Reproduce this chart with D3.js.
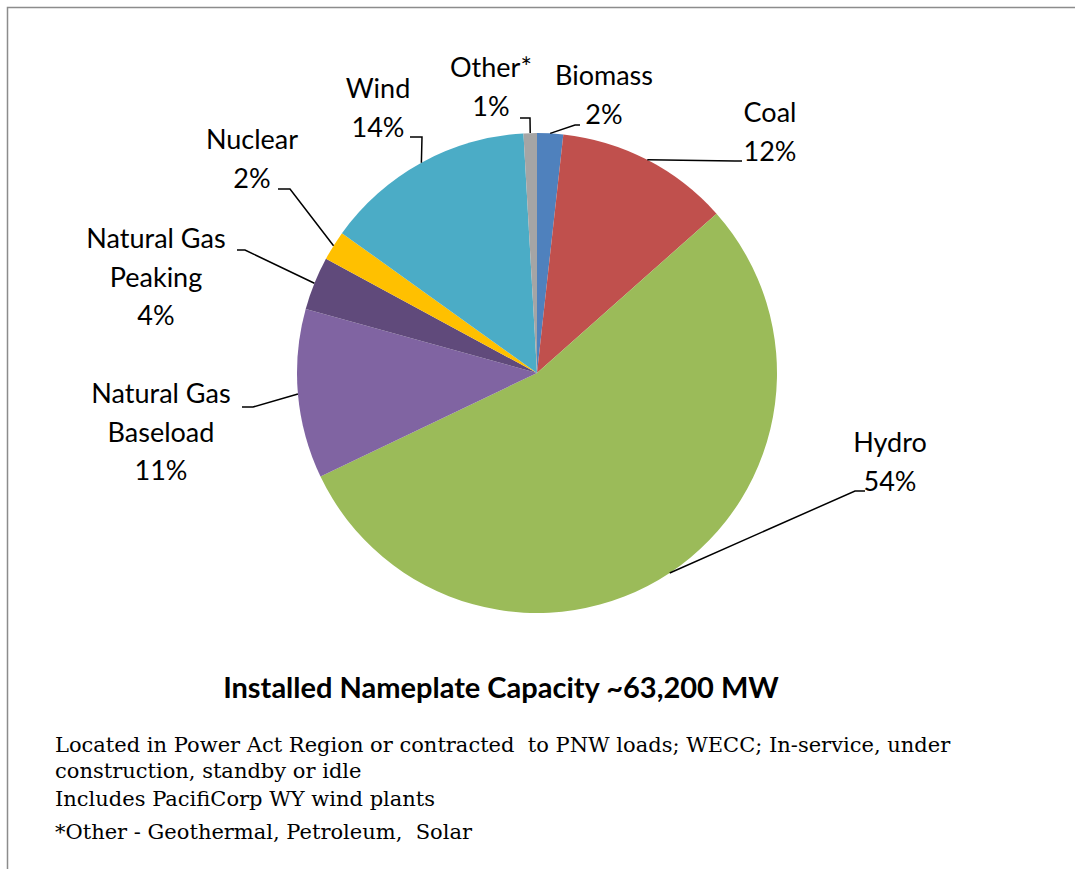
<!DOCTYPE html>
<html>
<head>
<meta charset="utf-8">
<script src="https://cdn.jsdelivr.net/npm/d3@7"></script>
<style>
  body { margin: 0; background: #fff; }
  svg { display: block; }
</style>
</head>
<body>
<svg width="1075" height="869"></svg>
<script>
// Data (share of installed nameplate capacity, %)
let categories = ["Biomass", "Coal", "Hydro", "Natural Gas Baseload", "Natural Gas Peaking", "Nuclear", "Wind", "Other*"];
let shares = [1.75, 11.7, 54.45, 11.4, 3.6, 2.0, 14.2, 0.9];
let labelLines = [
  ["Biomass"], ["Coal"], ["Hydro"],
  ["Natural Gas", "Baseload"], ["Natural Gas", "Peaking"],
  ["Nuclear"], ["Wind"], ["Other*"]
];
let colors = ["#4F81BD", "#C0504D", "#9BBB59", "#8064A2", "#604A7B", "#FFC000", "#4BACC6", "#A5A5A5"];

let title = "Installed Nameplate Capacity ~63,200 MW";
let notes = [
  "Located in Power Act Region or contracted  to PNW loads; WECC; In-service, under",
  "construction, standby or idle",
  "Includes PacifiCorp WY wind plants",
  "*Other - Geothermal, Petroleum,  Solar"
];

// Label placement (text centre, first baseline, leader elbow and end)
let labelPos = [
  { x: 604, y: 85,  elbow: [575, 125], end: [580, 125] },
  { x: 770, y: 122, elbow: [735, 161], end: [742, 161] },
  { x: 890, y: 452, elbow: [855, 491], end: [865, 491] },
  { x: 161, y: 403, elbow: [253, 407], end: [242, 407] },
  { x: 156, y: 248, elbow: [245, 250], end: [237, 250] },
  { x: 252, y: 149, elbow: [290, 189], end: [278, 189] },
  { x: 378, y: 98,  elbow: [422, 137], end: [410, 137] },
  { x: 491, y: 77,  elbow: [530, 118], end: [520, 118] }
];

let svg = d3.select("svg");
let cx = 537, cy = 373, radius = 240;
let lineHeight = 38.5;

// Outer frame
svg.append("path")
  .attr("d", "M7.5,869 V7.5 H1075")
  .attr("fill", "none")
  .attr("stroke", "#8c8c8c")
  .attr("stroke-width", 1.5);

let pie = d3.pie().sort(null).value(function(d) { return d; });
let arcs = pie(shares);

let arc = d3.arc().innerRadius(0).outerRadius(radius);
let edge = d3.arc().innerRadius(radius).outerRadius(radius);

let g = svg.append("g")
  .attr("transform", "translate(" + cx + "," + cy + ")");

g.selectAll("path.slice")
  .data(arcs)
  .enter()
  .append("path")
  .attr("class", "slice")
  .attr("d", arc)
  .attr("fill", function(d, i) { return colors[i]; });

// Leader lines
svg.selectAll("polyline.leader")
  .data(arcs)
  .enter()
  .append("polyline")
  .attr("class", "leader")
  .attr("points", function(d, i) {
    let c = edge.centroid(d);
    let p = labelPos[i];
    return [[cx + c[0], cy + c[1]], p.elbow, p.end].map(function(q) { return q.join(","); }).join(" ");
  })
  .attr("fill", "none")
  .attr("stroke", "#000")
  .attr("stroke-width", 1.5);

// Labels - name lines then percentage
let labels = svg.selectAll("text.label")
  .data(arcs)
  .enter()
  .append("text")
  .attr("class", "label")
  .attr("text-anchor", "middle")
  .attr("font-family", "Lato, 'Open Sans', sans-serif")
  .attr("font-size", "27px")
  .attr("fill", "#000");

labels.selectAll("tspan")
  .data(function(d, i) {
    return labelLines[i].concat([Math.round(d.data) + "%"]).map(function(t) { return { t: t, i: i }; });
  })
  .enter()
  .append("tspan")
  .attr("x", function(d) { return labelPos[d.i].x; })
  .attr("y", function(d, j) { return labelPos[d.i].y + j * lineHeight; })
  .text(function(d) { return d.t; });

// Title
svg.append("text")
  .attr("x", 501)
  .attr("y", 698)
  .attr("text-anchor", "middle")
  .attr("font-family", "Lato, 'Open Sans', sans-serif")
  .attr("font-weight", "bold")
  .attr("font-size", "29px")
  .text(title);

// Footnotes
let noteY = [752, 778, 806, 839];
svg.selectAll("text.note")
  .data(notes)
  .enter()
  .append("text")
  .attr("class", "note")
  .attr("x", 55)
  .attr("y", function(d, i) { return noteY[i]; })
  .attr("font-family", "'DejaVu Serif', serif")
  .attr("font-size", "21px")
  .attr("xml:space", "preserve")
  .style("white-space", "pre")
  .text(function(d) { return d; });
</script>
</body>
</html>
